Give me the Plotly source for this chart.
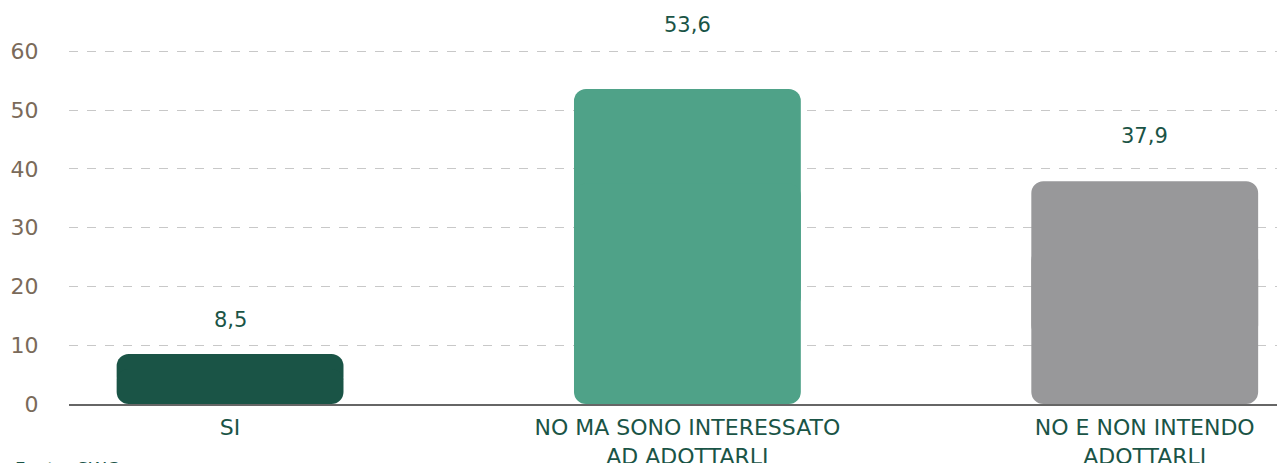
import plotly.graph_objects as go

categories = ["SI", "NO MA SONO INTERESSATO<br>AD ADOTTARLI", "NO E NON INTENDO<br>ADOTTARLI"]
values = [8.5, 53.6, 37.9]
value_labels = ["8,5", "53,6", "37,9"]
tick_vals = [0, 10, 20, 30, 40, 50, 60]
source_text = "Fonte: SWG"

colors = ["#1a5446", "#4fa288", "#98989a"]
label_shift = [34, 64, 45]
FONT = "DejaVu Sans"
x = list(range(len(categories)))

# two overlapping pieces so both ends of each bar get rounded corners
up_base = [v * 0.3 for v in values]
up_len = [v * 0.7 for v in values]
down_base = [v * 0.7 for v in values]
down_len = [-v * 0.7 for v in values]

fig = go.Figure()
fig.add_trace(go.Bar(x=x, y=up_len, base=up_base, width=0.496,
                     marker=dict(color=colors, cornerradius=12, line_width=0),
                     hoverinfo="skip", showlegend=False))
fig.add_trace(go.Bar(x=x, y=down_len, base=down_base, width=0.496,
                     marker=dict(color=colors, cornerradius=12, line_width=0),
                     hoverinfo="skip", showlegend=False))

for i, v in enumerate(values):
    fig.add_annotation(x=x[i], y=v, text=value_labels[i], showarrow=False,
                       yshift=label_shift[i], font=dict(family=FONT, size=21, color="#1a5446"))

fig.add_annotation(xref="paper", yref="paper", x=-0.046, y=-0.135, xanchor="left", yanchor="top",
                   text=source_text, showarrow=False, font=dict(family=FONT, size=18, color="#1a5446"))

fig.update_layout(
    width=1285, height=463,
    margin=dict(l=61, r=8, t=8, b=67),
    paper_bgcolor="white", plot_bgcolor="white",
    barmode="overlay",
    xaxis=dict(range=[-0.3522, 2.3067], tickmode="array", tickvals=x, ticktext=categories,
               showgrid=False, zeroline=False, showline=True, linecolor="#666666", linewidth=2,
               tickfont=dict(family=FONT, size=22, color="#1a5446"), ticks="",
               ticklabelstandoff=3, automargin=False),
    yaxis=dict(range=[0, 66], tickmode="array", tickvals=tick_vals,
               showgrid=True, gridcolor="#c8c8c8", griddash="dash", gridwidth=1,
               zeroline=False, showline=False,
               ticks="outside", ticklen=25, tickcolor="rgba(0,0,0,0)",
               tickfont=dict(family=FONT, size=22, color="#7a6a5a"), automargin=False),
)

fig.write_html("out.html")
